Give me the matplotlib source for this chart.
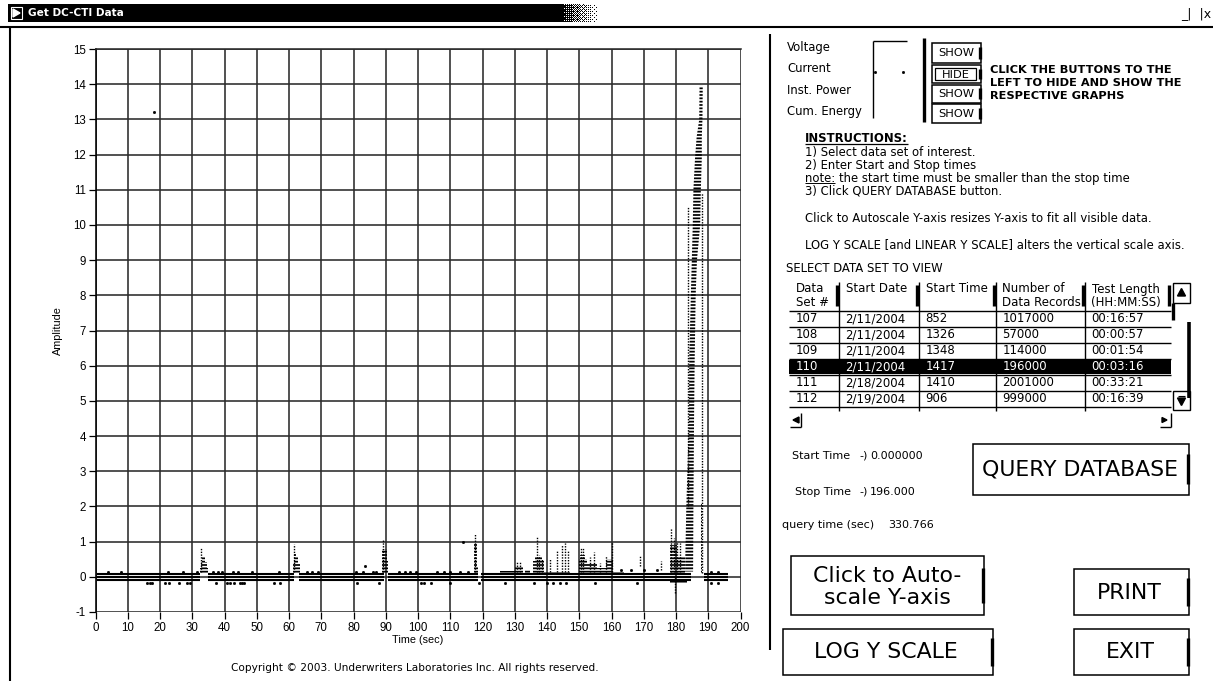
import matplotlib
matplotlib.use("Agg")
import matplotlib.pyplot as plt
from matplotlib.patches import Rectangle, Polygon
import numpy as np

W, H = 1213, 681

# ---------------- data ----------------
x_ticks = list(range(0, 201, 10))
y_ticks = list(range(-1, 16))

# baseline band (segments in seconds, levels in amplitude)
base_start = [0.5, 35.0, 63.2, 90.8, 119.4, 188.6]
base_end = [32.5, 61.6, 89.5, 118.6, 184.6, 196.0]
base_levels = [0.09, 0.0, -0.09]

# dense bursts (x0, x1, low, high)
blk_x0 = [32.4, 32.7, 33.0, 61.3, 61.4, 61.5, 88.8, 88.9, 117.3, 117.4,
          125.5, 130.1, 133.2, 135.6, 136.2, 139.2, 150.0, 150.2, 152.4, 155.4,
          158.4, 160.5, 178.1, 180.2, 178.1, 187.8]
blk_x1 = [35.0, 34.6, 34.0, 63.3, 62.8, 62.3, 90.8, 90.4, 118.5, 118.2,
          130.1, 132.6, 134.7, 139.2, 138.6, 147.0, 152.4, 151.8, 155.4, 158.4,
          160.5, 164.0, 180.2, 182.8, 183.5, 188.2]
blk_lo = [0.12, 0.25, 0.42, 0.12, 0.35, 0.55, 0.12, 0.45, 0.12, 0.30,
          0.08, 0.08, 0.08, 0.08, 0.45, 0.08, 0.08, 0.50, 0.08, 0.08,
          0.08, 0.08, 0.08, 0.08, -0.20, 0.10]
blk_hi = [0.25, 0.42, 0.55, 0.35, 0.55, 0.68, 0.45, 0.80, 0.30, 0.95,
          0.16, 0.32, 0.20, 0.45, 0.58, 0.15, 0.50, 0.62, 0.35, 0.25,
          0.50, 0.14, 0.90, 0.55, -0.10, 2.10]

# sparse dotted spikes (x, low, high)
spk_x = [32.6, 61.6, 89.0, 117.6, 130.7, 131.6, 136.8, 137.6, 138.4, 141.0,
         143.0, 144.8, 145.6, 146.6, 150.4, 151.3, 153.4, 154.6, 156.5, 158.2,
         160.3, 168.8, 175.5, 178.5, 179.3, 180.2, 181.2, 179.6, 183.8, 188.0]
spk_lo = [0.15, 0.15, 0.15, 0.15, 0.15, 0.15, 0.15, 0.15, 0.15, 0.15,
          0.15, 0.15, 0.15, 0.15, 0.15, 0.15, 0.15, 0.15, 0.15, 0.15,
          0.15, 0.30, 0.18, 0.15, 0.15, 0.15, 0.15, -0.45, 2.0, 0.10]
spk_hi = [0.85, 0.93, 1.05, 1.22, 0.43, 0.43, 1.16, 0.62, 0.50, 0.50,
          0.72, 0.90, 0.96, 0.72, 0.83, 0.83, 0.55, 0.70, 0.40, 0.60,
          0.98, 0.58, 0.45, 1.38, 1.10, 1.00, 0.97, 0.0, 10.5, 10.9]

# main surge (ramp envelope)
ramp_y = [0.15, 2.0, 4.5, 6.2, 8.0, 9.0, 10.0, 11.0, 11.9, 12.5, 13.0, 13.95]
ramp_left = [182.8, 183.2, 184.0, 184.1, 184.6, 184.9, 185.2, 185.4, 185.9, 186.4, 187.2, 187.3]
ramp_right = [185.3, 185.4, 185.6, 185.8, 186.1, 186.5, 187.5, 187.7, 188.0, 188.0, 188.2, 188.3]

# isolated samples
dot_x = [4.0, 7.8, 22.6, 27.1, 31.4, 36.4, 37.9, 39.1, 42.5, 44.3, 48.6, 57.0, 65.5, 67.0,
         69.0, 80.9, 83.0, 83.5, 86.0, 87.0, 94.0, 96.0, 97.5, 99.5, 106.0, 108.0, 110.0,
         113.0, 114.0, 115.5, 18.2, 163.0, 166.0, 170.0, 174.0, 191.0, 193.0,
         15.9, 16.8, 17.6, 21.6, 22.9, 26.0, 28.3, 29.3, 37.5, 40.8, 41.8, 42.8, 44.7,
         45.5, 46.2, 55.5, 57.2, 81.0, 87.8, 100.8, 102.0, 104.0, 110.0, 118.8, 127.0,
         136.0, 140.0, 142.0, 144.0, 146.0, 155.0, 168.0, 191.0, 193.0]
dot_y = [0.14] * 17 + [0.32] + [0.14] * 10 + [0.98, 0.14, 13.2] + [0.18] * 4 + [0.15, 0.15] + \
        [-0.17] * 34

# UI texts / table
channels = ["Voltage", "Current", "Inst. Power", "Cum. Energy"]
channel_btn = ["SHOW", "HIDE", "SHOW", "SHOW"]
tbl_cols = ["Data\nSet #", "Start Date", "Start Time", "Number of\nData Records", "Test Length\n(HH:MM:SS)"]
tbl_id = ["107", "108", "109", "110", "111", "112"]
tbl_date = ["2/11/2004", "2/11/2004", "2/11/2004", "2/11/2004", "2/18/2004", "2/19/2004"]
tbl_time = ["852", "1326", "1348", "1417", "1410", "906"]
tbl_recs = ["1017000", "57000", "114000", "196000", "2001000", "999000"]
tbl_len = ["00:16:57", "00:00:57", "00:01:54", "00:03:16", "00:33:21", "00:16:39"]
selected_row = 3

plt.rcParams["hatch.linewidth"] = 1.25
plt.rcParams["axes.unicode_minus"] = False

fig = plt.figure(figsize=(W / 100, H / 100), dpi=100)
fig.patch.set_facecolor("white")

# ---------------- chart ----------------
L, R, T, B = 95.5, 740.5, 49.0, 612.0
ax = fig.add_axes([L / W, 1 - B / H, (R - L) / W, (B - T) / H])
ax.set_xlim(0, 200)
ax.set_ylim(-1, 15)
ax.set_xticks(x_ticks)
ax.set_yticks(y_ticks)
ax.grid(True, color="#2b2b2b", lw=1.15)
ax.set_axisbelow(True)
for s in ["right", "bottom"]:
    ax.spines[s].set_visible(False)
ax.spines["top"].set_color("#2b2b2b")
ax.spines["top"].set_linewidth(1.15)
ax.spines["left"].set_linewidth(1.15)
ax.tick_params(axis="both", length=5, width=0.9, colors="black", labelsize=8.3, pad=2)
for lab in ax.get_xticklabels() + ax.get_yticklabels():
    lab.set_family("Liberation Sans")
ax.set_xlabel("Time (sec)", family="Liberation Sans", fontsize=7.8)
ax.xaxis.set_label_coords(0.5, (B - 635) / (B - T))
ax.set_ylabel("Amplitude", family="Liberation Sans", fontsize=7.8)
ax.yaxis.set_label_coords((63 - L) / (R - L), 0.5)

for s0, s1 in zip(base_start, base_end):
    ax.hlines(base_levels, s0, s1, colors="black", lw=1.5)
ax.bar(blk_x0, np.array(blk_hi) - np.array(blk_lo), width=np.array(blk_x1) - np.array(blk_x0),
       bottom=blk_lo, align="edge", facecolor="none", edgecolor="black", hatch="-----", lw=0)
ax.vlines(spk_x, spk_lo, spk_hi, colors="black", lw=1.0, linestyles=(0, (1, 1)))
ax.fill_betweenx(ramp_y, ramp_left, ramp_right, facecolor="none", edgecolor="black",
                 hatch="-----", lw=0)
ax.plot(dot_x, dot_y, ls="none", marker="s", ms=1.0, color="black")

# ---------------- UI overlay ----------------
ui = fig.add_axes([0, 0, 1, 1], zorder=5)
ui.set_xlim(0, W)
ui.set_ylim(H, 0)
ui.axis("off")
ui.patch.set_alpha(0)
renderer = fig.canvas.get_renderer()


def fit_size(s, width, weight="normal", family="DejaVu Sans"):
    t = ui.text(0, 0, s, fontsize=10, weight=weight, family=family)
    w = t.get_window_extent(renderer).width
    t.remove()
    return 10 * width / w


def txt(x, y, s, size, ha="left", va="center", weight="normal", color="black", family="DejaVu Sans"):
    return ui.text(x, y, s, ha=ha, va=va, fontsize=size, weight=weight, color=color, family=family)


def ftext(x, y, s, width, ha="left", va="center", weight="normal", color="black"):
    return txt(x, y, s, fit_size(s, width, weight), ha=ha, va=va, weight=weight, color=color)


def line(xs, ys, lw=1.2, c="black"):
    ui.plot(xs, ys, color=c, lw=lw, solid_capstyle="butt")


def button(x0, y0, x1, y1, lw=1.1):
    ui.add_patch(Rectangle((x0, y0), x1 - x0, y1 - y0, fill=False, ec="black", lw=lw))
    h = y1 - y0
    line([x1 - 1, x1 - 1], [y0 + 0.2 * h, y1 - 0.2 * h], lw=2.4)


# title bar
ui.add_patch(Rectangle((8, 4), 552, 18, color="black", lw=0))
bayer = np.array([[0, 8, 2, 10], [12, 4, 14, 6], [3, 11, 1, 9], [15, 7, 13, 5]]) / 16.0
gx = np.linspace(0, 1, 40)
pat = np.array([[1.0 if gx[j] > bayer[i % 4, j % 4] else 0.0 for j in range(40)] for i in range(18)])
ui.imshow(pat, cmap="gray", extent=(560, 600, 22, 4), aspect="auto", interpolation="nearest",
          vmin=0, vmax=1)
ui.set_xlim(0, W)
ui.set_ylim(H, 0)
ui.add_patch(Rectangle((11, 7), 11, 12, fill=False, ec="white", lw=0.8))
ui.add_patch(Polygon([[13, 9], [20, 13], [13, 17]], closed=True, color="white"))
ftext(28, 13.5, "Get DC-CTI Data", 96, weight="bold", color="white")
ftext(1181, 14, "_|  |x", 30)
line([0, W], [27, 27], lw=1.5)
line([10, 10], [27, H], lw=1.5)
line([769.5, 769.5], [34, 650], lw=1.5)

# common UI font size (Tahoma-like 8pt)
fs_ui = fit_size("LOG Y SCALE [and LINEAR Y SCALE] alters the vertical scale axis.", 377)

# channel legend
chan_y = [48, 69, 90, 111.5]
for name, yy in zip(channels, chan_y):
    txt(787, yy, name, fs_ui)
line([873, 873], [41, 118], lw=1.0)
line([873, 907], [41, 41], lw=1.0)
line([923.5, 923.5], [38, 122], lw=2.4)
ui.plot([875, 903], [72, 72], ls="none", marker="s", ms=1.0, color="black")
btn_y = [(43, 63), (65, 83), (84.5, 102.5), (104, 123)]
fs_btn = fit_size("SHOW", 36)
for lab, (y0, y1) in zip(channel_btn, btn_y):
    button(932, y0, 981, y1)
    if lab == "HIDE":
        ui.add_patch(Rectangle((935, y0 + 3), 41, y1 - y0 - 6, fill=False, ec="black", lw=0.9))
    txt(956, (y0 + y1) / 2 + 0.5, lab, fs_btn, ha="center")

fs_b = fit_size("LEFT TO HIDE AND SHOW THE", 193, weight="bold")
txt(990, 70, "CLICK THE BUTTONS TO THE", fs_b, weight="bold")
txt(990, 83, "LEFT TO HIDE AND SHOW THE", fs_b, weight="bold")
txt(990, 96, "RESPECTIVE GRAPHS", fs_b, weight="bold")

# instructions
t_ins = txt(805, 138.5, "INSTRUCTIONS:", fs_ui, weight="bold")
w_ins = t_ins.get_window_extent(renderer).width
line([805, 805 + w_ins], [144, 144], lw=0.9)
txt(805, 152.5, "1) Select data set of interest.", fs_ui)
txt(805, 165.5, "2) Enter Start and Stop times", fs_ui)
txt(805, 178.5, "note: the start time must be smaller than the stop time", fs_ui)
t_note = txt(805, 300, "note:", fs_ui)
w_note = t_note.get_window_extent(renderer).width
t_note.remove()
line([805, 805 + w_note], [183.3, 183.3], lw=0.7)
txt(805, 191.5, "3) Click QUERY DATABASE button.", fs_ui)
txt(805, 218, "Click to Autoscale Y-axis resizes Y-axis to fit all visible data.", fs_ui)
txt(805, 245, "LOG Y SCALE [and LINEAR Y SCALE] alters the vertical scale axis.", fs_ui)
txt(786, 269, "SELECT DATA SET TO VIEW", fs_ui)

# table
col_x = [789, 838.5, 918.5, 995.5, 1084.5, 1170.5]
hdr_top, hdr_bot = 282, 310.5
row_h = 16.0
n_rows = len(tbl_id)
row_top = [hdr_bot + i * row_h for i in range(n_rows)]
tbl_bot = hdr_bot + n_rows * row_h
ui.add_patch(Rectangle((col_x[0], row_top[selected_row] + 1), col_x[-1] - col_x[0],
                       row_h - 1.5, color="black", lw=0))
for cx in col_x[1:-1]:
    line([cx, cx], [hdr_top, tbl_bot + 4], lw=1.0)
for cx in col_x[1:]:
    line([cx - 2, cx - 2], [hdr_top + 3, hdr_bot - 5], lw=2.4)
for i in range(n_rows + 1):
    line([col_x[0], col_x[-1]], [hdr_bot + i * row_h, hdr_bot + i * row_h], lw=1.0)
fs_tbl = fit_size("2/11/2004", 60)
for j, hdr in enumerate(tbl_cols):
    for k, p in enumerate(hdr.split("\n")):
        txt(col_x[j] + 7, 289 + 13.5 * k, p, fs_tbl)
cols = [tbl_id, tbl_date, tbl_time, tbl_recs, tbl_len]
for j, col in enumerate(cols):
    for i, val in enumerate(col):
        c = "white" if i == selected_row else "black"
        txt(col_x[j] + 7, row_top[i] + row_h / 2 + 0.5, val, fs_tbl, color=c)
# scroll bar pieces
ui.add_patch(Rectangle((1173, 283), 17, 20, fill=False, ec="black", lw=1.0))
ui.add_patch(Polygon([[1177.5, 296], [1181.5, 288.5], [1185.5, 296]], closed=True, color="black"))
ui.add_patch(Rectangle((1173, 391), 17, 19, fill=False, ec="black", lw=1.0))
ui.add_patch(Polygon([[1177.5, 398], [1181.5, 405.5], [1185.5, 398]], closed=True, color="black"))
line([1178, 1185], [396, 396], lw=0.8)
line([1172.5, 1172.5], [303, 320], lw=2.4)
line([1188.5, 1188.5], [322, 398], lw=2.6)
line([800.5, 800.5], [413, 427], lw=1.0)
line([790, 800.5], [427, 427], lw=1.0)
ui.add_patch(Polygon([[793, 420], [799, 417], [799, 423]], closed=True, color="black"))
line([1170.5, 1170.5], [413, 427], lw=1.0)
line([1160, 1170.5], [427, 427], lw=1.0)
ui.add_patch(Polygon([[1162, 417.5], [1167, 420], [1162, 422.5]], closed=True, color="black"))

# time controls
fs_small = fit_size("Start Time", 58)
txt(792, 456, "Start Time", fs_small)
txt(859, 456, "-)", fs_small)
txt(870, 456, "0.000000", fs_small)
txt(795, 492, "Stop Time", fs_small)
txt(859, 492, "-)", fs_small)
txt(870, 492, "196.000", fs_small)
txt(782, 525, "query time (sec)", fs_small)
txt(888, 525, "330.766", fs_small)

# buttons
fs_big = fit_size("QUERY DATABASE", 196)
button(973, 444, 1188.5, 494.5)
txt(1080.5, 470, "QUERY DATABASE", fs_big, ha="center")
button(791, 556, 984, 615)
txt(887, 575.5, "Click to Auto-", fs_big, ha="center")
txt(887, 598.5, "scale Y-axis", fs_big, ha="center")
button(783, 628.5, 992.5, 675)
txt(886, 652, "LOG Y SCALE", fs_big, ha="center")
button(1073.5, 568.5, 1189, 615)
txt(1129, 593, "PRINT", fs_big, ha="center")
button(1073.5, 628.5, 1189, 675)
txt(1130.5, 652, "EXIT", fs_big, ha="center")

ftext(415, 668, "Copyright \u00a9 2003. Underwriters Laboratories Inc. All rights reserved.", 363, ha="center")

fig.savefig("out.png", dpi=100, facecolor="white")
